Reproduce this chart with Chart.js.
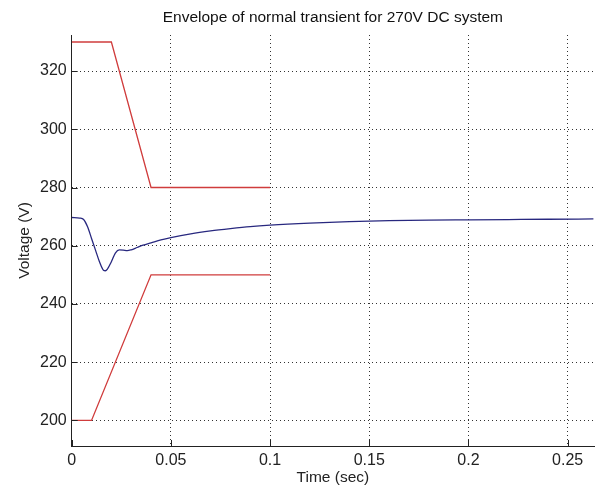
<!DOCTYPE html>
<html>
<head>
<meta charset="utf-8">
<script src="https://cdn.jsdelivr.net/npm/chart.js@4/dist/chart.umd.min.js"></script>
<style>
  html, body { margin: 0; padding: 0; background: #fff; }
  #wrap { width: 597px; height: 491px; }
</style>
</head>
<body>
<div id="wrap"><canvas id="chart"></canvas></div>
<script>
// Upper envelope limit (V) vs time (s)
const upperTime = [0, 0.02, 0.04, 0.1];
const upperVolt = [330, 330, 280, 280];

// Lower envelope limit
const lowerTime = [0, 0.01, 0.04, 0.1];
const lowerVolt = [200, 200, 250, 250];

// Simulated bus voltage response
const respTime = [0, 0.004, 0.006, 0.008, 0.010, 0.012, 0.014, 0.016, 0.017, 0.018,
  0.020, 0.022, 0.024, 0.026, 0.028, 0.030, 0.033, 0.036, 0.040, 0.045, 0.050,
  0.060, 0.070, 0.080, 0.090, 0.100, 0.120, 0.140, 0.160, 0.180, 0.200, 0.220,
  0.240, 0.263];
const respVolt = [269.7, 269.5, 269.0, 266.5, 262.5, 258.5, 254.5, 251.6, 251.4, 252.0,
  254.5, 257.5, 258.6, 258.5, 258.3, 258.6, 259.4, 260.2, 261.0, 262.0, 262.8,
  264.1, 265.1, 265.9, 266.6, 267.1, 267.8, 268.3, 268.6, 268.8, 268.9, 269.0,
  269.1, 269.2];

const xTicks = [0, 0.05, 0.1, 0.15, 0.2, 0.25];
const yTicks = [200, 220, 240, 260, 280, 300, 320];

const pts = (xs, ys) => xs.map((x, i) => ({ x: x, y: ys[i] }));

// short inward tick marks on the bottom and left axes
const innerTicks = {
  id: 'innerTicks',
  afterDatasetsDraw(chart) {
    const { ctx, chartArea, scales } = chart;
    ctx.save();
    ctx.strokeStyle = '#222';
    ctx.lineWidth = 1;
    ctx.beginPath();
    xTicks.forEach(v => {
      const px = Math.round(scales.x.getPixelForValue(v)) + 0.5;
      ctx.moveTo(px, chartArea.bottom);
      ctx.lineTo(px, chartArea.bottom - 6);
    });
    yTicks.forEach(v => {
      const py = Math.round(scales.y.getPixelForValue(v)) + 0.5;
      ctx.moveTo(chartArea.left, py);
      ctx.lineTo(chartArea.left + 6, py);
    });
    ctx.stroke();
    ctx.restore();
  }
};

const family = 'Liberation Sans, Arial, sans-serif';
const tickFont = { family: family, size: 16 };
const labelFont = { family: family, size: 15.5 };

new Chart(document.getElementById('chart'), {
  type: 'line',
  data: {
    datasets: [
      { data: pts(upperTime, upperVolt), borderColor: '#d03c3c', borderWidth: 1.3 },
      { data: pts(lowerTime, lowerVolt), borderColor: '#d03c3c', borderWidth: 1.3 },
      { data: pts(respTime, respVolt), borderColor: '#28287f', borderWidth: 1.3, cubicInterpolationMode: 'monotone' }
    ]
  },
  options: {
    responsive: true,
    maintainAspectRatio: false,
    animation: false,
    elements: { point: { radius: 0 } },
    layout: { padding: { left: 0, right: 3, top: 0, bottom: 0 } },
    plugins: {
      legend: { display: false },
      tooltip: { enabled: false },
      title: {
        display: true,
        fullSize: false,   // centre over the plot area
        text: 'Envelope of normal transient for 270V DC system',
        color: '#111',
        font: { family: family, size: 15.5, weight: 'normal' },
        padding: { top: 8.7, bottom: 7.7 }
      }
    },
    scales: {
      x: {
        type: 'linear',
        min: 0,
        max: 0.2633,
        afterFit: s => { s.height = 45; },
        border: { color: '#222', width: 1, dash: [1, 3] },
        grid: { color: '#333', drawTicks: false, lineWidth: 1 },
        ticks: {
          stepSize: 0.05,
          includeBounds: false,
          padding: 5,
          color: '#222',
          font: tickFont,
          maxRotation: 0,
          callback: v => String(Number(v.toFixed(2)))
        },
        title: {
          display: true,
          text: 'Time (sec)',
          color: '#222',
          font: labelFont,
          padding: { top: 0, bottom: 3.7 }
        }
      },
      y: {
        min: 191.2,
        max: 332.4,
        afterFit: s => { s.width = 71.7; },
        border: { color: '#222', width: 1, dash: [1, 3] },
        grid: { color: '#333', drawTicks: false, lineWidth: 1 },
        ticks: {
          stepSize: 20,
          includeBounds: false,
          padding: 5,
          color: '#222',
          font: tickFont
        },
        title: {
          display: true,
          text: 'Voltage (V)',
          color: '#222',
          font: labelFont,
          padding: { top: 15.7, bottom: 0 }
        }
      }
    }
  },
  plugins: [innerTicks]
});
</script>
</body>
</html>
